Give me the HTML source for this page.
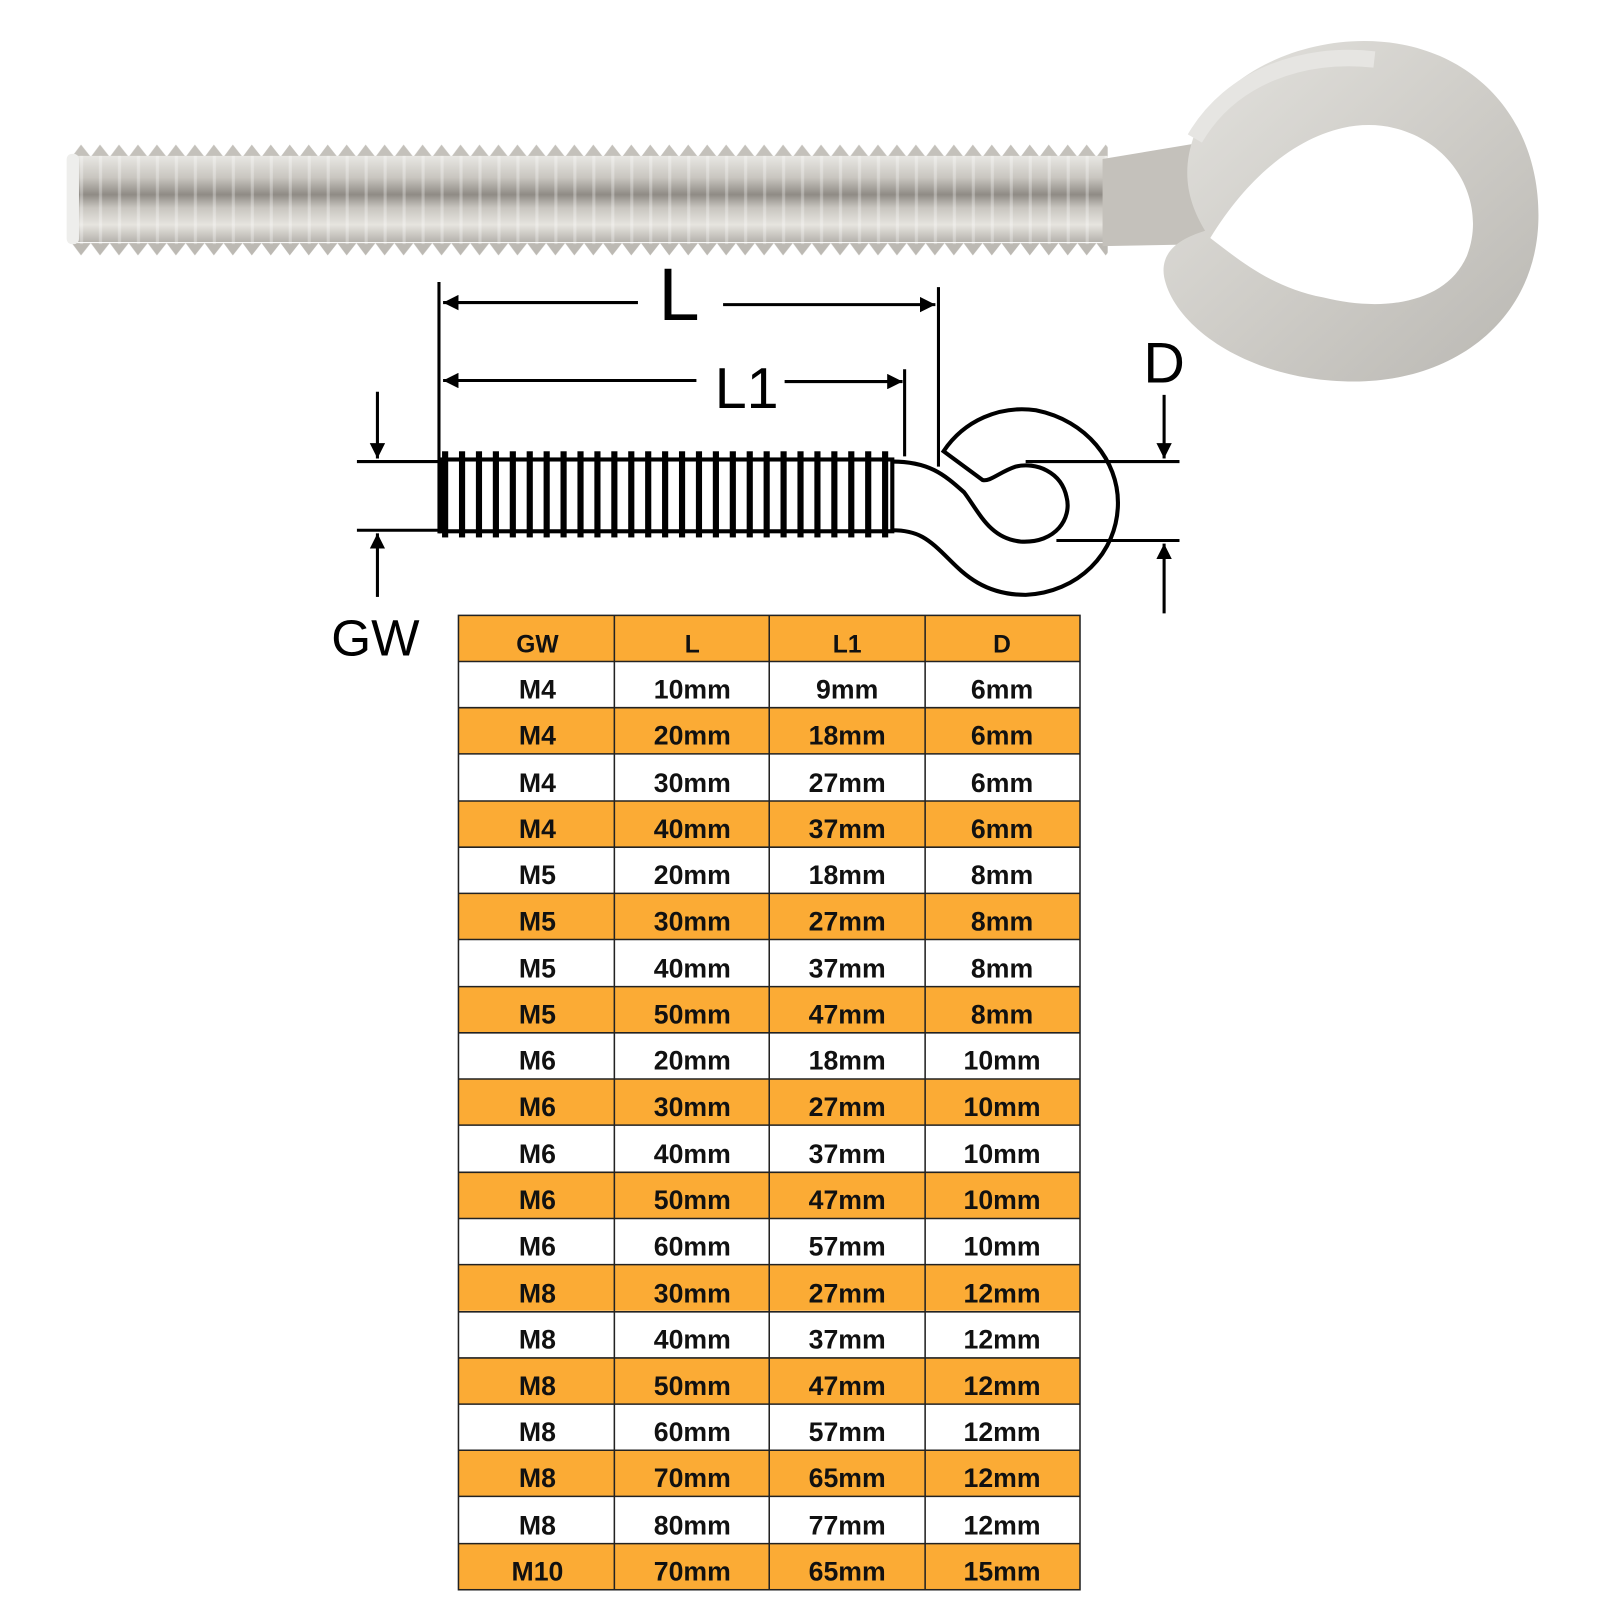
<!DOCTYPE html>
<html><head><meta charset="utf-8"><style>
html,body{margin:0;padding:0;background:#fff;}
svg{display:block;}
text{font-family:"Liberation Sans",sans-serif;}
</style></head><body>
<svg width="1600" height="1600" viewBox="0 0 1560 1560" xmlns="http://www.w3.org/2000/svg">
<defs>
<linearGradient id="rod" x1="0" y1="0" x2="0" y2="1">
<stop offset="0" stop-color="#e8e7e3"/><stop offset="0.25" stop-color="#c9c6c0"/>
<stop offset="0.45" stop-color="#8f8b85"/><stop offset="0.6" stop-color="#c8c5bf"/>
<stop offset="0.8" stop-color="#e6e4df"/><stop offset="1" stop-color="#b5b2ac"/>
</linearGradient>
<pattern id="teeth" x="70" y="140" width="18.5" height="110" patternUnits="userSpaceOnUse">
<path d="M0,13 L9,1 L18.5,13 Z" fill="#c4c1bb"/>
<path d="M0,97 L9,109 L18.5,97 Z" fill="#bcb9b3"/>
</pattern>
<pattern id="ridge" x="70" y="140" width="18.5" height="110" patternUnits="userSpaceOnUse">
<rect x="8" y="12" width="3" height="86" fill="#ffffff" opacity="0.3"/>
</pattern>
<linearGradient id="ringg" x1="0" y1="0" x2="1" y2="1">
<stop offset="0" stop-color="#e4e3df"/><stop offset="0.5" stop-color="#cfcdc8"/><stop offset="1" stop-color="#b9b7b2"/>
</linearGradient>
<marker id="ah" viewBox="0 0 10 10" refX="10" refY="5" markerWidth="5" markerHeight="5" orient="auto"><path d="M0,0 L10,5 L0,10 Z" fill="#000"/></marker>
</defs>

<!-- photo bolt -->
<rect x="70" y="140" width="1010" height="110" fill="url(#teeth)"/>
<rect x="70" y="152" width="1010" height="84" fill="url(#rod)"/>
<rect x="70" y="140" width="1010" height="110" fill="url(#ridge)"/>
<rect x="65" y="150" width="12" height="88" rx="5" fill="#eeeeec"/>
<path d="M1075,155 L1165,140 L1180,238 L1075,240 Z" fill="#c4c1bb"/>
<path d="M1330,40 C1430,40 1500,110 1500,210 C1500,310 1420,372 1320,372 C1220,372 1145,320 1135,270 C1130,240 1160,230 1175,225 C1160,200 1150,170 1165,130 C1190,75 1260,40 1330,40 Z" fill="url(#ringg)"/>
<path d="M1180,232 C1230,150 1300,110 1360,125 C1420,140 1450,200 1430,250 C1410,295 1350,305 1290,290 C1240,280 1210,255 1180,232 Z" fill="#fff"/>
<path d="M1165,135 C1200,75 1270,50 1340,58" stroke="#e6e5e2" stroke-width="16" fill="none"/>

<!-- diagram -->
<g stroke="#000" stroke-width="3" fill="none">
<line x1="428" y1="275" x2="428" y2="520"/>
<line x1="915" y1="280" x2="915" y2="455"/>
<line x1="882" y1="360" x2="882" y2="445"/>
<line x1="622" y1="295" x2="432" y2="295" marker-end="url(#ah)"/>
<line x1="705" y1="297" x2="912" y2="297" marker-end="url(#ah)"/>
<line x1="679" y1="371" x2="432" y2="371" marker-end="url(#ah)"/>
<line x1="765" y1="372" x2="880" y2="372" marker-end="url(#ah)"/>
<line x1="348" y1="450" x2="428" y2="450"/>
<line x1="348" y1="517" x2="428" y2="517"/>
<line x1="368" y1="382" x2="368" y2="447" marker-end="url(#ah)"/>
<line x1="368" y1="582" x2="368" y2="520" marker-end="url(#ah)"/>
<line x1="1000" y1="450" x2="1150" y2="450"/>
<line x1="1030" y1="527" x2="1150" y2="527"/>
<line x1="1135" y1="385" x2="1135" y2="447" marker-end="url(#ah)"/>
<line x1="1135" y1="598" x2="1135" y2="530" marker-end="url(#ah)"/>
</g>
<g stroke="#000" stroke-width="4" fill="none">
<rect x="430" y="448" width="440" height="70"/>
<path d="M870,450 C905,450 920,462 940,480 C955,500 965,525 995,528 C1030,530 1045,505 1040,485 C1035,460 1010,450 990,455 C975,460 965,470 958,468 L920,440 C940,410 975,395 1010,400 C1060,410 1090,450 1090,490 C1090,540 1050,578 1000,580 C960,580 940,560 925,545 C905,525 895,517 870,517"/>
</g>
<g fill="#000">
<rect x="431" y="440" width="6" height="84"/><rect x="447.5" y="440" width="6" height="84"/><rect x="464" y="440" width="6" height="84"/><rect x="480.5" y="440" width="6" height="84"/><rect x="497" y="440" width="6" height="84"/><rect x="513.5" y="440" width="6" height="84"/><rect x="530" y="440" width="6" height="84"/><rect x="546.5" y="440" width="6" height="84"/><rect x="563" y="440" width="6" height="84"/><rect x="579.5" y="440" width="6" height="84"/><rect x="596" y="440" width="6" height="84"/><rect x="612.5" y="440" width="6" height="84"/><rect x="629" y="440" width="6" height="84"/><rect x="645.5" y="440" width="6" height="84"/><rect x="662" y="440" width="6" height="84"/><rect x="678.5" y="440" width="6" height="84"/><rect x="695" y="440" width="6" height="84"/><rect x="711.5" y="440" width="6" height="84"/><rect x="728" y="440" width="6" height="84"/><rect x="744.5" y="440" width="6" height="84"/><rect x="761" y="440" width="6" height="84"/><rect x="777.5" y="440" width="6" height="84"/><rect x="794" y="440" width="6" height="84"/><rect x="810.5" y="440" width="6" height="84"/><rect x="827" y="440" width="6" height="84"/><rect x="843.5" y="440" width="6" height="84"/><rect x="860" y="440" width="6" height="84"/>
</g>
<text x="662" y="312" font-size="72" text-anchor="middle">L</text>
<text x="728" y="398" font-size="56" text-anchor="middle">L1</text>
<text x="1135" y="373" font-size="56" text-anchor="middle">D</text>
<text x="366" y="639" font-size="50" text-anchor="middle">GW</text>

<!-- table -->
<g font-weight="bold" font-size="26" text-anchor="middle" fill="#111">
<rect x="447" y="600" width="606" height="45" fill="#fbab35"/>
<rect x="447" y="690" width="606" height="45" fill="#fbab35"/>
<rect x="447" y="781" width="606" height="45" fill="#fbab35"/>
<rect x="447" y="871" width="606" height="45" fill="#fbab35"/>
<rect x="447" y="962" width="606" height="45" fill="#fbab35"/>
<rect x="447" y="1052" width="606" height="45" fill="#fbab35"/>
<rect x="447" y="1143" width="606" height="45" fill="#fbab35"/>
<rect x="447" y="1233" width="606" height="45" fill="#fbab35"/>
<rect x="447" y="1324" width="606" height="45" fill="#fbab35"/>
<rect x="447" y="1414" width="606" height="45" fill="#fbab35"/>
<rect x="447" y="1505" width="606" height="45" fill="#fbab35"/>
<g stroke="#222" stroke-width="1.5">
<rect x="447" y="600" width="606" height="950" fill="none"/>
<line x1="599" y1="600" x2="599" y2="1550"/><line x1="750" y1="600" x2="750" y2="1550"/><line x1="902" y1="600" x2="902" y2="1550"/>
<line x1="447" y1="645" x2="1053" y2="645"/><line x1="447" y1="690" x2="1053" y2="690"/><line x1="447" y1="735" x2="1053" y2="735"/><line x1="447" y1="781" x2="1053" y2="781"/><line x1="447" y1="826" x2="1053" y2="826"/><line x1="447" y1="871" x2="1053" y2="871"/><line x1="447" y1="916" x2="1053" y2="916"/><line x1="447" y1="962" x2="1053" y2="962"/><line x1="447" y1="1007" x2="1053" y2="1007"/><line x1="447" y1="1052" x2="1053" y2="1052"/><line x1="447" y1="1097" x2="1053" y2="1097"/><line x1="447" y1="1143" x2="1053" y2="1143"/><line x1="447" y1="1188" x2="1053" y2="1188"/><line x1="447" y1="1233" x2="1053" y2="1233"/><line x1="447" y1="1279" x2="1053" y2="1279"/><line x1="447" y1="1324" x2="1053" y2="1324"/><line x1="447" y1="1369" x2="1053" y2="1369"/><line x1="447" y1="1414" x2="1053" y2="1414"/><line x1="447" y1="1459" x2="1053" y2="1459"/><line x1="447" y1="1505" x2="1053" y2="1505"/>
</g>
<g font-size="24"><text x="524" y="636">GW</text><text x="675" y="636">L</text><text x="826" y="636">L1</text><text x="977" y="636">D</text></g>
<text x="524" y="681">M4</text><text x="675" y="681">10mm</text><text x="826" y="681">9mm</text><text x="977" y="681">6mm</text>
<text x="524" y="726">M4</text><text x="675" y="726">20mm</text><text x="826" y="726">18mm</text><text x="977" y="726">6mm</text>
<text x="524" y="772">M4</text><text x="675" y="772">30mm</text><text x="826" y="772">27mm</text><text x="977" y="772">6mm</text>
<text x="524" y="817">M4</text><text x="675" y="817">40mm</text><text x="826" y="817">37mm</text><text x="977" y="817">6mm</text>
<text x="524" y="862">M5</text><text x="675" y="862">20mm</text><text x="826" y="862">18mm</text><text x="977" y="862">8mm</text>
<text x="524" y="907">M5</text><text x="675" y="907">30mm</text><text x="826" y="907">27mm</text><text x="977" y="907">8mm</text>
<text x="524" y="953">M5</text><text x="675" y="953">40mm</text><text x="826" y="953">37mm</text><text x="977" y="953">8mm</text>
<text x="524" y="998">M5</text><text x="675" y="998">50mm</text><text x="826" y="998">47mm</text><text x="977" y="998">8mm</text>
<text x="524" y="1043">M6</text><text x="675" y="1043">20mm</text><text x="826" y="1043">18mm</text><text x="977" y="1043">10mm</text>
<text x="524" y="1088">M6</text><text x="675" y="1088">30mm</text><text x="826" y="1088">27mm</text><text x="977" y="1088">10mm</text>
<text x="524" y="1134">M6</text><text x="675" y="1134">40mm</text><text x="826" y="1134">37mm</text><text x="977" y="1134">10mm</text>
<text x="524" y="1179">M6</text><text x="675" y="1179">50mm</text><text x="826" y="1179">47mm</text><text x="977" y="1179">10mm</text>
<text x="524" y="1224">M6</text><text x="675" y="1224">60mm</text><text x="826" y="1224">57mm</text><text x="977" y="1224">10mm</text>
<text x="524" y="1270">M8</text><text x="675" y="1270">30mm</text><text x="826" y="1270">27mm</text><text x="977" y="1270">12mm</text>
<text x="524" y="1315">M8</text><text x="675" y="1315">40mm</text><text x="826" y="1315">37mm</text><text x="977" y="1315">12mm</text>
<text x="524" y="1360">M8</text><text x="675" y="1360">50mm</text><text x="826" y="1360">47mm</text><text x="977" y="1360">12mm</text>
<text x="524" y="1405">M8</text><text x="675" y="1405">60mm</text><text x="826" y="1405">57mm</text><text x="977" y="1405">12mm</text>
<text x="524" y="1450">M8</text><text x="675" y="1450">70mm</text><text x="826" y="1450">65mm</text><text x="977" y="1450">12mm</text>
<text x="524" y="1496">M8</text><text x="675" y="1496">80mm</text><text x="826" y="1496">77mm</text><text x="977" y="1496">12mm</text>
<text x="524" y="1541">M10</text><text x="675" y="1541">70mm</text><text x="826" y="1541">65mm</text><text x="977" y="1541">15mm</text>
</g>
</svg>
</body></html>
